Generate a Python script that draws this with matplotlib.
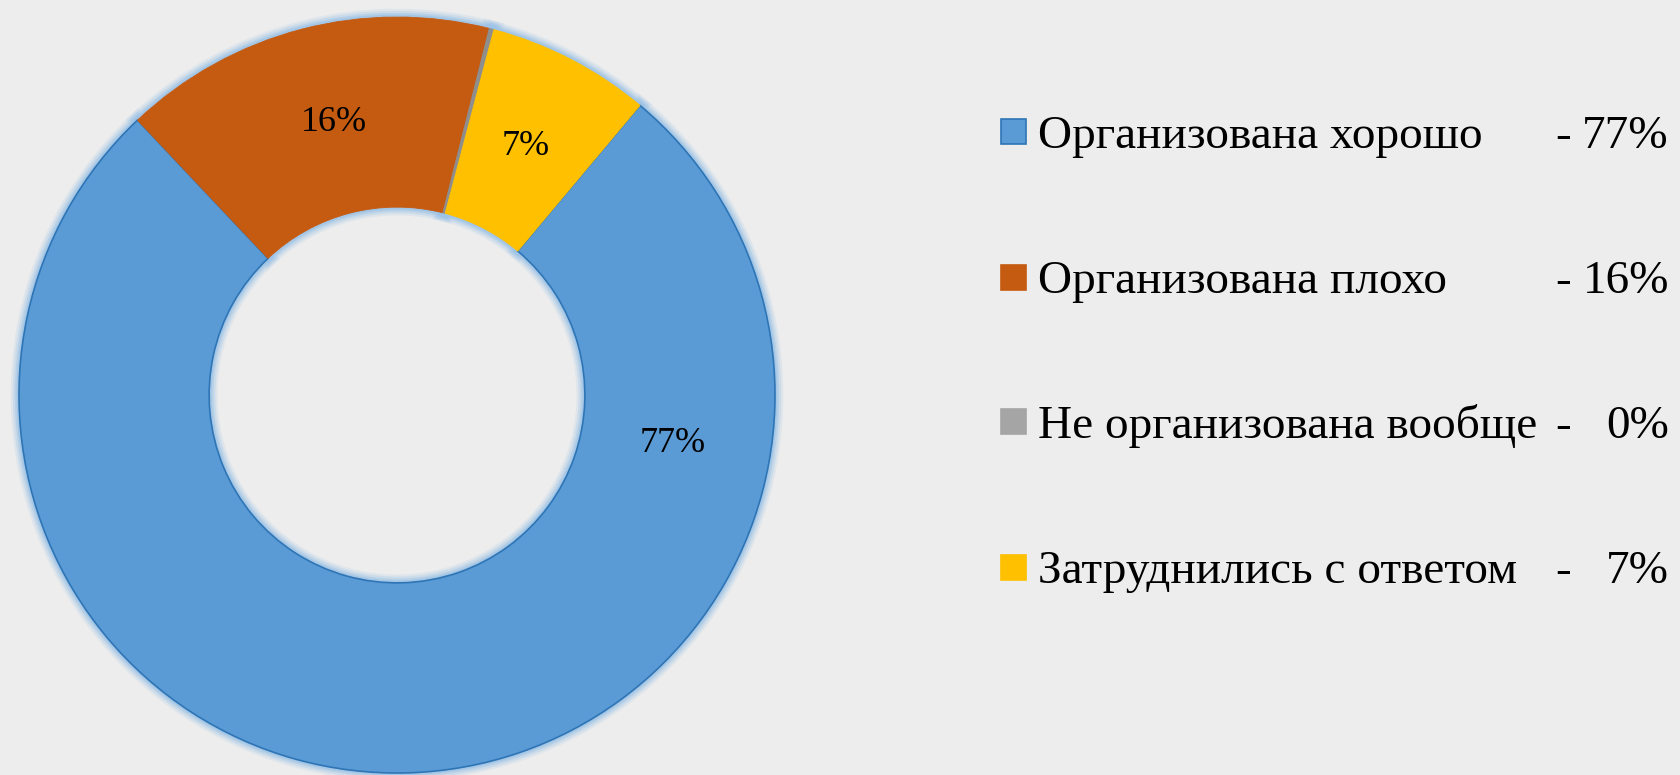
import matplotlib
matplotlib.use("Agg")
import matplotlib.pyplot as plt
from matplotlib.patches import Wedge, Rectangle
import numpy as np

categories = ["Организована хорошо", "Организована плохо", "Не организована вообще", "Затруднились с ответом"]
values = [77, 16, 0.2, 7]
slice_labels = ["77%", "16%", "", "7%"]
legend_pcts = ["77%", "16%", "0%", "7%"]
colors = ["#5B9BD5", "#C55A11", "#8E8E8E", "#FFC000"]
legend_colors = ["#5B9BD5", "#C55A11", "#A5A5A5", "#FFC000"]
edge_colors = ["#2E75B6", "#C55A11", "#8E8E8E", "#FFC000"]

BG = "#EDEDED"
W, H = 1681, 775
fig = plt.figure(figsize=(W / 100, H / 100), dpi=100, facecolor=BG)
plt.rcParams['font.family'] = ['Liberation Serif', 'DejaVu Serif']

def fx(px):
    return px / W

def fy(py):
    return 1 - py / H

# pie axes: center (397, 395) px, radius 378 px
cx, cy, R = 397, 395, 378
ax = fig.add_axes([fx(cx - R), fy(cy + R), 2 * R / W, 2 * R / H])
ax.set_facecolor(BG)

ring = 0.503
wedges, _ = ax.pie(values, colors=colors, startangle=50, counterclock=False,
                   radius=1, wedgeprops=dict(width=ring, linewidth=0))
ax.set_xlim(-1, 1)
ax.set_ylim(-1, 1)
ax.set_aspect('equal')
ax.axis('off')

for w, ec in zip(wedges, edge_colors):
    w.set_edgecolor(ec)
    w.set_linewidth(1.2 if ec == "#2E75B6" else 0.6)
    w.set_zorder(5)
    w.set_clip_on(False)
    # glow
    for lw, a in [(12, 0.18), (9, 0.28), (6, 0.45), (3.5, 0.7)]:
        g = Wedge(w.center, w.r, w.theta1, w.theta2, width=w.width,
                  facecolor='none', edgecolor='#9DC3E6', linewidth=lw,
                  alpha=a, zorder=2, clip_on=False)
        ax.add_patch(g)

# slice labels
label_r = 0.74
for i, (w, lab) in enumerate(zip(wedges, slice_labels)):
    if not lab:
        continue
    ang = (w.theta1 + w.theta2) / 2
    if i == 0:
        ang = -10  # best-fit placement for the large slice
    elif i == 1:
        ang -= 1.5
    a = np.deg2rad(ang)
    ax.text(label_r * np.cos(a), label_r * np.sin(a), lab, ha='center', va='center',
            fontsize=26, color='black', zorder=10)

# legend (manual)
row_y = [131.7, 277, 421.7, 567]
for y, cat, pct, col in zip(row_y, categories, legend_pcts, legend_colors):
    ec = "#2E75B6" if col == "#5B9BD5" else col
    fig.patches.append(Rectangle((fx(1001), fy(y + 12.5)), 25 / W, 25 / H,
                                 transform=fig.transFigure, facecolor=col,
                                 edgecolor=ec, linewidth=1.2))
    fig.text(fx(1038), fy(y + 16), cat, ha='left', va='baseline', fontsize=34, color='black')
    fig.text(fx(1563), fy(y + 16), "-", ha='center', va='baseline', fontsize=34, color='black')
    fig.text(fx(1669), fy(y + 16), pct, ha='right', va='baseline', fontsize=34, color='black')

fig.savefig("out.png", dpi=100, facecolor=BG)
